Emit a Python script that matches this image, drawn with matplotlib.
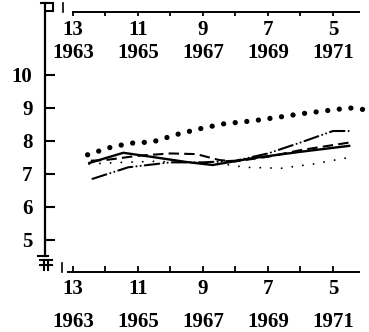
import numpy as np
import matplotlib
matplotlib.use("Agg")
import matplotlib.pyplot as plt
from matplotlib.lines import Line2D
from matplotlib.transforms import Affine2D, ScaledTranslation

plt.rcParams["font.family"] = ["Liberation Serif", "DejaVu Serif"]
plt.rcParams["font.weight"] = "bold"
plt.rcParams["font.size"] = 15

# age ticks and the matching school year
ages = [13, 11, 9, 7, 5]
minor_ages = [12, 10, 8, 6]
years = [1963, 1965, 1967, 1969, 1971]
y_ticks = [5, 6, 7, 8, 9, 10]

# series (age, value)
heavy_age = [12.55, 11.9, 11.25, 10.55, 9.75, 9.0, 8.35, 7.45, 6.6, 6.0, 5.25, 4.5, 3.95]
heavy_val = [7.58, 7.79, 7.93, 7.97, 8.21, 8.39, 8.52, 8.61, 8.73, 8.82, 8.91, 9.0, 8.94]

solid_age = [12.5, 11.45, 10.6, 9.5, 8.7, 7.45, 6.0, 4.5]
solid_val = [7.33, 7.64, 7.52, 7.36, 7.27, 7.48, 7.67, 7.85]

dash_age = [12.45, 12.0, 11.0, 10.0, 9.2, 8.5, 8.0, 7.0, 6.0, 4.5]
dash_val = [7.4, 7.42, 7.55, 7.62, 7.6, 7.42, 7.38, 7.52, 7.72, 7.95]

dashdot_age = [12.4, 11.3, 10.0, 9.0, 8.0, 7.0, 6.0, 5.0, 4.5]
dashdot_val = [6.85, 7.2, 7.35, 7.35, 7.4, 7.62, 7.95, 8.3, 8.3]

dot_age = [12.5, 11.5, 10.5, 9.5, 8.5, 7.7, 6.6, 5.6, 4.5]
dot_val = [7.3, 7.35, 7.38, 7.35, 7.32, 7.2, 7.17, 7.3, 7.5]

XLIM = (13.86, 3.89)
YLIM = (4.03, 12.18)
TOP_FRAC = 0.9667  # height of the upper age axis, as a fraction of the axes

fig = plt.figure(figsize=(3.69, 3.32), dpi=100)
ax = fig.add_axes([0.122, 0.181, 0.878, 0.810])
ax.set_xlim(*XLIM)
ax.set_ylim(*YLIM)

ax.plot(heavy_age, heavy_val, color="black", lw=3.8, dashes=(0.01, 2.2),
        dash_capstyle="round")
ax.plot(solid_age, solid_val, color="black", lw=1.7)
ax.plot(dash_age, dash_val, color="black", lw=1.5, dashes=(5, 2.5))
ax.plot(dashdot_age, dashdot_val, color="black", lw=1.5,
        dashes=(7, 2, 0.01, 2, 0.01, 2), dash_capstyle="round")
ax.plot(dot_age, dot_val, color="black", lw=1.4, dashes=(0.01, 5.5),
        dash_capstyle="round")

# y axis on the left only
for s in ["top", "right", "bottom"]:
    ax.spines[s].set_visible(False)
ax.spines["left"].set_linewidth(1.6)
ax.spines["left"].set_bounds(4.52, 12.18)
ax.set_yticks(y_ticks)
ax.tick_params(axis="y", direction="in", length=7, width=1.5, pad=9)

labels = [f"{a}\n{y}" for a, y in zip(ages, years)]

# age axes as plain lines in data units: bottom one and the repeat near the top
y_lo, y_hi = YLIM
span = y_hi - y_lo
y_top = y_lo + TOP_FRAC * span
all_ticks = ages + minor_ages

ax.plot([13.18, 4.17], [y_lo, y_lo], color="black", lw=1.4, clip_on=False,
        solid_capstyle="butt")
ax.plot([13.03, 4.17], [y_top, y_top], color="black", lw=1.4, clip_on=False,
        solid_capstyle="butt")
for t in all_ticks:
    ax.plot([t, t], [y_lo, y_lo + 0.021 * span], color="black", lw=1.3,
            clip_on=False, solid_capstyle="butt")
    ax.plot([t, t], [y_top, y_top - 0.015 * span], color="black", lw=1.3,
            clip_on=False, solid_capstyle="butt")

ax.set_xticks(ages)
ax.set_xticklabels(labels, linespacing=1.85)
ax.tick_params(axis="x", length=0, pad=5)

# labels for the upper axis
top = fig.add_axes([0.122, 0.964, 0.878, 0.03])
top.set_xlim(*XLIM)
top.set_ylim(0, 1)
for s in ["top", "left", "right", "bottom"]:
    top.spines[s].set_visible(False)
top.patch.set_visible(False)
top.set_yticks([])
top.set_xticks(ages)
top.set_xticklabels(labels, linespacing=1.2)
top.tick_params(axis="x", length=0, pad=6)

# axis break marks at both ends of the y axis, offsets in pixels
at_top = Affine2D() + ScaledTranslation(0, 1, ax.transAxes)
at_bottom = Affine2D() + ScaledTranslation(0, 0, ax.transAxes)


def mark(xs, ys, trans, lw=1.5):
    ax.add_line(Line2D(xs, ys, color="black", lw=lw, transform=trans,
                       clip_on=False))


mark([-4, 8], [0, 0], at_top)
mark([8, 8], [0, -8], at_top)
mark([1, 8], [-8, -8], at_top)
mark([18, 18], [0, -9], at_top, lw=1.2)

mark([-7, 3], [16, 16], at_bottom)
mark([-5, 7], [12, 12], at_bottom)
mark([-5, 7], [7, 7], at_bottom)
mark([-1, -1], [12, 2], at_bottom)
mark([3, 3], [12, 2], at_bottom)
mark([17, 17], [9, 0], at_bottom, lw=1.2)

fig.savefig("out.png", dpi=100)
